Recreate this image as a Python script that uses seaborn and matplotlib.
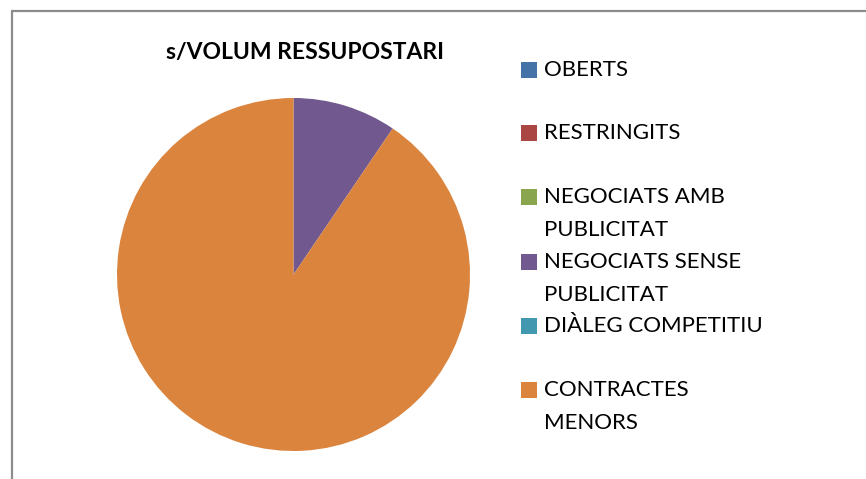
import matplotlib
matplotlib.use("Agg")
import matplotlib.pyplot as plt
from matplotlib.patches import Rectangle
from matplotlib.lines import Line2D
import seaborn as sns

categories = ["OBERTS", "RESTRINGITS", "NEGOCIATS AMB\nPUBLICITAT",
              "NEGOCIATS SENSE\nPUBLICITAT", "DIÀLEG COMPETITIU",
              "CONTRACTES\nMENORS"]
values = [0.0, 0.0, 0.0, 9.5, 0.0, 90.5]
colors = ["#4572A7", "#AA4643", "#89A54E", "#71588F", "#4198AF", "#DB843D"]
title = "s/VOLUM RESSUPOSTARI"

sns.set_theme(style="white")
plt.rcParams["font.family"] = ["Lato", "DejaVu Sans"]

W, H = 866, 479
fig = plt.figure(figsize=(W / 100, H / 100), dpi=100)
fig.patch.set_facecolor("white")

def fx(x):
    return x / W

def fy(y):
    return 1 - y / H

cx, cy, r = 293.5, 274.5, 176.5
ax = fig.add_axes([fx(cx - r), fy(cy + r), 2 * r / W, 2 * r / H])
palette = sns.color_palette(colors)
ax.pie(values, colors=palette, startangle=90, counterclock=False,
       wedgeprops=dict(linewidth=0))
ax.set_xlim(-1, 1)
ax.set_ylim(-1, 1)
ax.set_aspect("equal")
ax.axis("off")

fig.text(fx(305), fy(53), title, ha="center", va="center",
         fontsize=16.5, fontweight="bold", color="black")

# frame lines
fig.add_artist(Line2D([fx(12), fx(866)], [fy(11), fy(11)], color="#8c8c8c", lw=1.6))
fig.add_artist(Line2D([fx(12), fx(12)], [fy(11), fy(479)], color="#8c8c8c", lw=1.6))

# legend
row_y = [70, 133, 197, 262, 326, 390]
for lab, col, y in zip(categories, palette, row_y):
    fig.add_artist(Rectangle((fx(521), fy(y + 8)), 16 / W, 16 / H,
                             facecolor=col, edgecolor="none"))
    lines = lab.split("\n")
    for i, ln in enumerate(lines):
        fig.text(fx(544), fy(y + i * 33), ln, ha="left", va="center",
                 fontsize=16, color="black")

fig.savefig("out.png", dpi=100)
